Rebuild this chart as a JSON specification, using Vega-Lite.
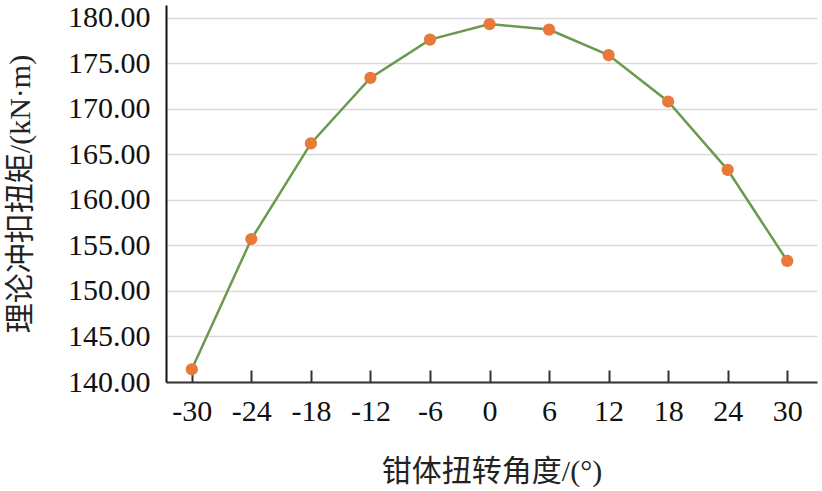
{
  "$schema": "https://vega.github.io/schema/vega-lite/v6.json",
  "width": 651,
  "height": 377,
  "autosize": {"type": "none"},
  "padding": {"left": 166, "top": 5, "right": 5, "bottom": 109},
  "background": "white",
  "config": {
    "view": {"stroke": null},
    "font": "Liberation Serif, Noto Sans CJK SC",
    "axis": {"labelFont": "Liberation Serif", "titleFont": "Liberation Serif, Noto Sans CJK SC", "labelColor": "#111", "titleColor": "#222", "titleFontWeight": "normal"}
  },
  "data": {
    "values": [
      {"angle": -30, "torque": 141.4},
      {"angle": -24, "torque": 155.7},
      {"angle": -18, "torque": 166.2},
      {"angle": -12, "torque": 173.4},
      {"angle": -6, "torque": 177.6},
      {"angle": 0, "torque": 179.3},
      {"angle": 6, "torque": 178.7},
      {"angle": 12, "torque": 175.9},
      {"angle": 18, "torque": 170.8},
      {"angle": 24, "torque": 163.3},
      {"angle": 30, "torque": 153.3}
    ]
  },
  "encoding": {
    "x": {
      "field": "angle", "type": "quantitative",
      "scale": {"domain": [-32.6, 33], "nice": false, "zero": false},
      "axis": {
        "title": "钳体扭转角度/(°)",
        "values": [-30, -24, -18, -12, -6, 0, 6, 12, 18, 24, 30],
        "labelExpr": "toString(datum.value)",
        "grid": false,
        "domainColor": "#333", "domainWidth": 2,
        "tickColor": "#333", "tickWidth": 2, "tickSize": -12,
        "labelFontSize": 30, "labelPadding": 26,
        "titleFontSize": 30, "titlePadding": 30
      }
    },
    "y": {
      "field": "torque", "type": "quantitative",
      "scale": {"domain": [140, 181.4], "nice": false, "zero": false},
      "axis": {
        "title": "理论冲扣扭矩/(kN·m)",
        "values": [140, 145, 150, 155, 160, 165, 170, 175, 180],
        "format": ".2f",
        "grid": true, "gridColor": "#d9d9d9", "gridWidth": 1.5,
        "ticks": false,
        "domainColor": "#111", "domainWidth": 2,
        "labelFontSize": 30, "labelPadding": 16,
        "titleFontSize": 30, "titlePadding": 32
      }
    }
  },
  "layer": [
    {"mark": {"type": "line", "color": "#6b9a4f", "strokeWidth": 2.5}},
    {"mark": {"type": "point", "filled": true, "color": "#e8793a", "size": 150, "opacity": 1}}
  ]
}
